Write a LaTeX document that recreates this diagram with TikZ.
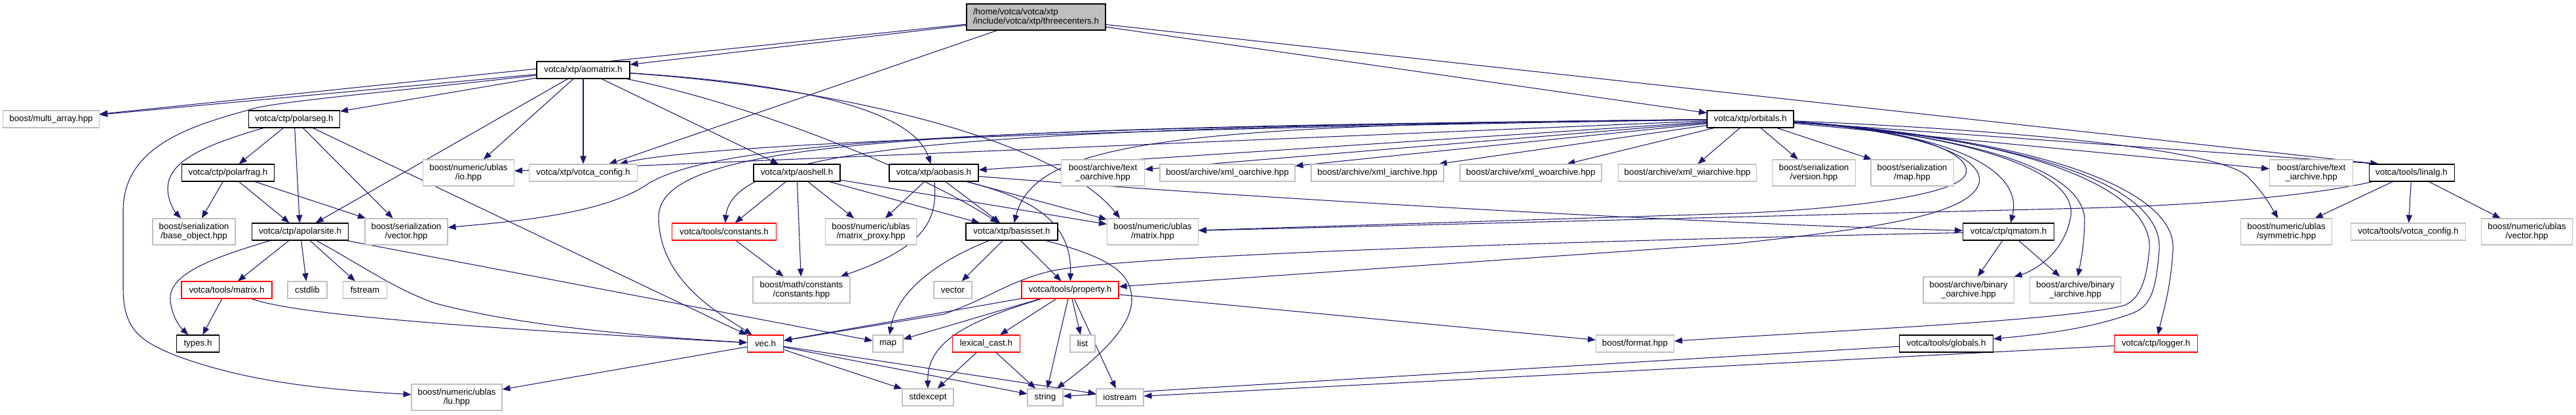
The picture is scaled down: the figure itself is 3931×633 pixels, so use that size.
\documentclass[tikz,border=0pt]{standalone}
\usepackage{fontspec}
\setmainfont{Liberation Sans}
\usetikzlibrary{arrows.meta,calc}
\pgfdeclarelayer{bg}
\pgfsetlayers{bg,main}
\definecolor{edgeblue}{HTML}{191970}
\definecolor{extgray}{HTML}{BFBFBF}
\definecolor{docred}{HTML}{FF0000}
\definecolor{tcgray}{HTML}{BFBFBF}
\tikzset{
  nbox/.style={draw, line width=0.8pt, minimum height=19.5pt, inner sep=1pt,
    font=\fontsize{10}{10.5}\selectfont, align=center, fill=white},
  docn/.style={nbox, draw=black},
  extn/.style={nbox, draw=extgray},
  redn/.style={nbox, draw=docred},
  tall/.style={minimum height=30pt},
  wd/.style={minimum width=#1*0.75pt},
  dep/.style={draw=edgeblue, line width=0.8pt, -{Triangle[length=9pt,width=7pt]}},
}
\begin{document}
\begin{tikzpicture}[x=0.75pt,y=-0.75pt]
\useasboundingbox (0,0) rectangle (3931,633);
% nodes
\node[docn,wd=212,tall,fill=tcgray,align=left] (tc) at (1581,26) {/home/votca/votca/xtp\\/include/votca/xtp/threecenters.h};
\node[docn,wd=142] (am) at (890,107) {votca/xtp/aomatrix.h};
\node[extn,wd=147] (multi) at (78,182) {boost/multi\_array.hpp};
\node[docn,wd=139] (pseg) at (449,182) {votca/ctp/polarseg.h};
\node[docn,wd=141] (pfrag) at (348,264) {votca/ctp/polarfrag.h};
\node[extn,wd=139,tall] (io) at (715,264) {boost/numeric/ublas\\/io.hpp};
\node[extn,wd=165] (xcfg) at (890,264) {votca/xtp/votca\_config.h};
\node[extn,wd=126,tall] (bobj) at (296,354) {boost/serialization\\/base\_object.hpp};
\node[docn,wd=147] (apol) at (458,354) {votca/ctp/apolarsite.h};
\node[extn,wd=126,tall] (svec) at (620,354) {boost/serialization\\/vector.hpp};
\node[redn,wd=138] (tmat) at (346,443) {votca/tools/matrix.h};
\node[extn,wd=60] (cstd) at (469,443) {cstdlib};
\node[extn,wd=67] (fstr) at (557,443) {fstream};
\node[docn,wd=65] (types) at (302,525) {types.h};
\node[extn,wd=138,tall] (lu) at (697,607) {boost/numeric/ublas\\/lu.hpp};
\node[docn,wd=132] (aosh) at (1216,264) {votca/xtp/aoshell.h};
\node[docn,wd=136] (aob) at (1425,264) {votca/xtp/aobasis.h};
\node[extn,wd=127,tall] (toa) at (1683,264) {boost/archive/text\\\_oarchive.hpp};
\node[extn,wd=206] (xoa) at (1873,264) {boost/archive/xml\_oarchive.hpp};
\node[redn,wd=159] (tconst) at (1105,354) {votca/tools/constants.h};
\node[extn,wd=139,tall] (mproxy) at (1329,354) {boost/numeric/ublas\\/matrix\_proxy.hpp};
\node[docn,wd=140] (bset) at (1544,354) {votca/xtp/basisset.h};
\node[extn,wd=139,tall] (umat) at (1759,354) {boost/numeric/ublas\\/matrix.hpp};
\node[extn,wd=148,tall] (mconst) at (1223,443) {boost/math/constants\\/constants.hpp};
\node[extn,wd=58] (vector) at (1454,443) {vector};
\node[redn,wd=148] (prop) at (1633,443) {votca/tools/property.h};
\node[redn,wd=55] (vec) at (1168,525) {vec.h};
\node[extn,wd=46] (map) at (1355,525) {map};
\node[redn,wd=103] (lex) at (1505,525) {lexical\_cast.h};
\node[extn,wd=38] (list) at (1652,525) {list};
\node[extn,wd=78] (stdex) at (1416,607) {stdexcept};
\node[extn,wd=54] (string) at (1595,607) {string};
\node[extn,wd=72] (iostr) at (1709,607) {iostream};
\node[docn,wd=132] (orb) at (2671,182) {votca/xtp/orbitals.h};
\node[extn,wd=202] (xia) at (2102,264) {boost/archive/xml\_iarchive.hpp};
\node[extn,wd=216] (xwoa) at (2336,264) {boost/archive/xml\_woarchive.hpp};
\node[extn,wd=211] (xwia) at (2575,264) {boost/archive/xml\_wiarchive.hpp};
\node[extn,wd=127,tall] (ver) at (2768,264) {boost/serialization\\/version.hpp};
\node[extn,wd=126,tall] (smap) at (2918,264) {boost/serialization\\/map.hpp};
\node[extn,wd=119] (fmt) at (2495,525) {boost/format.hpp};
\node[docn,wd=143] (glob) at (2970,525) {votca/tools/globals.h};
\node[docn,wd=139] (qmat) at (3065,354) {votca/ctp/qmatom.h};
\node[extn,wd=138,tall] (boa) at (3004,443) {boost/archive/binary\\\_oarchive.hpp};
\node[extn,wd=139,tall] (bia) at (3167,443) {boost/archive/binary\\\_iarchive.hpp};
\node[redn,wd=127] (logger) at (3290,525) {votca/ctp/logger.h};
\node[extn,wd=139,tall] (sym) at (3489,354) {boost/numeric/ublas\\/symmetric.hpp};
\node[extn,wd=175] (tcfg) at (3675,354) {votca/tools/votca\_config.h};
\node[extn,wd=139,tall] (uvec) at (3856,354) {boost/numeric/ublas\\/vector.hpp};
\node[extn,wd=127,tall] (tia) at (3527,264) {boost/archive/text\\\_iarchive.hpp};
\node[docn,wd=130] (linalg) at (3680,264) {votca/tools/linalg.h};

\begin{pgfonlayer}{bg}
\fill[white] (0,0) rectangle (3931,633);
% threecenters
\draw[dep] (tc) -- (am);
\draw[dep] (tc) -- (multi);
\draw[dep] (tc) -- (xcfg);
\draw[dep] (tc) -- (orb);
\draw[dep] (tc) -- ($(linalg.north west)+(15,0)$);
% aomatrix
\draw[dep] (am) -- (multi);
\draw[dep] (am) -- (pseg);
\draw[dep] (am) -- (apol);
\draw[dep] (am) -- (io);
\draw[dep] (am) -- (xcfg);
\draw[dep] (am) -- (aosh);
\draw[dep] (am) .. controls (600,140) and (420,155) .. (383,167) .. controls (300,190) and (189,220) .. (188,320) -- (188,440) .. controls (188,500) and (210,520) .. (268,543) .. controls (380,585) and (500,595) .. (lu);
\draw[dep] (am) .. controls (1250,130) and (1395,175) .. (aob);
\draw[dep] (am) .. controls (1150,160) and (1400,260) .. (bset);
\draw[dep] (am) .. controls (1300,135) and (1620,220) .. ($(umat.north)+(-50,0)$);
% polarseg
\draw[dep] (pseg) .. controls (300,225) and (255,250) .. (256,290) .. controls (257,310) and (268,325) .. (bobj);
\draw[dep] (pseg) -- (pfrag);
\draw[dep] (pseg) -- (apol);
\draw[dep] (pseg) -- (svec);
\draw[dep] (pseg) -- (vec);
% polarfrag
\draw[dep] (pfrag) -- (bobj);
\draw[dep] (pfrag) -- (apol);
\draw[dep] (pfrag) -- (svec);
% apolarsite
\draw[dep] (apol) -- (tmat);
\draw[dep] (apol) -- (cstd);
\draw[dep] (apol) -- (fstr);
\draw[dep] (apol) -- (map);
\draw[dep] (apol) .. controls (320,395) and (255,420) .. (260,460) .. controls (263,485) and (275,500) .. (types);
\draw[dep] (apol) .. controls (560,410) and (600,440) .. (663,463) .. controls (800,500) and (1000,515) .. (vec);
% tools/matrix
\draw[dep] (tmat) -- (types);
\draw[dep] (tmat) .. controls (450,480) and (700,500) .. (vec);
% vec
\draw[dep] (vec) -- (lu);
\draw[dep] (vec) -- (stdex);
\draw[dep] (vec) -- (string);
\draw[dep] (vec) -- (iostr);
% basisset
\draw[dep] (bset) -- (vector);
\draw[dep] (bset) -- (prop);
\draw[dep] (bset) .. controls (1440,395) and (1370,440) .. (map);
\draw[dep] (bset) .. controls (1700,395) and (1728,420) .. (1727,460) .. controls (1725,510) and (1650,565) .. (string);
% property
\draw[dep] (prop) -- (vec);
\draw[dep] (prop) -- (map);
\draw[dep] (prop) -- (lex);
\draw[dep] (prop) -- (string);
\draw[dep] (prop) -- (list);
\draw[dep] (prop) -- (iostr);
\draw[dep] (prop) -- (fmt);
\draw[dep] (prop) .. controls (1480,490) and (1415,520) .. (stdex);
% lexical_cast
\draw[dep] (lex) -- (stdex);
\draw[dep] (lex) -- (string);
% constants
\draw[dep] (tconst) -- (mconst);
% aoshell
\draw[dep] (aosh) -- (tconst);
\draw[dep] (aosh) -- (mconst);
\draw[dep] (aosh) -- (mproxy);
\draw[dep] (aosh) -- (bset);
\draw[dep] (aosh) -- (umat);
% aobasis
\draw[dep] (aob) -- (mproxy);
\draw[dep] (aob) -- (bset);
\draw[dep] (aob) -- (umat);
\draw[dep] (aob) .. controls (1430,330) and (1420,375) .. (mconst);
\draw[dep] (aob) .. controls (1560,300) and (1636,330) .. (prop);
\draw[dep] (aob) .. controls (2000,310) and (2700,345) .. (qmat);
% qmatom
\draw[dep] (qmat) -- (boa);
\draw[dep] (qmat) -- (bia);
\draw[dep] (qmat) .. controls (2400,368) and (1700,390) .. (1600,415) .. controls (1540,430) and (1510,455) .. (1440,480) -- (vec);
% linalg
\draw[dep] (linalg) -- (sym);
\draw[dep] (linalg) -- (tcfg);
\draw[dep] (linalg) -- (uvec);
\draw[dep] (linalg) .. controls (3500,305) and (3300,315) .. (3181,318) -- (umat);
% logger, globals
\draw[dep] (logger) -- (iostr);
\draw[dep] (glob) -- (string);
% orbitals
\draw[dep] (orb) -- (xia);
\draw[dep] (orb) -- (xwoa);
\draw[dep] (orb) -- (xwia);
\draw[dep] (orb) -- (ver);
\draw[dep] (orb) -- (smap);
\draw[dep] (orb) -- (xoa);
\draw[dep] (orb) -- (toa);
\draw[dep] (orb) -- (aob);
\draw[dep] (orb) -- (io);
\draw[dep] (orb) -- (tia);
\draw[dep] (orb) -- ($(linalg.north west)+(15,0)$);
\draw[dep] (orb) .. controls (1800,190) and (1580,215) .. (bset);
\draw[dep] (orb) .. controls (1500,200) and (1050,225) .. (xcfg);
\draw[dep] (orb) .. controls (1500,195) and (1100,215) .. (990,280) .. controls (920,330) and (760,340) .. (svec);
\draw[dep] (orb) .. controls (1500,195) and (1120,220) .. (tconst);
\draw[dep] (orb) .. controls (1400,195) and (1010,215) .. (1005,330) .. controls (1005,430) and (1100,480) .. (vec);
\draw[dep] (orb) .. controls (2900,195) and (3010,230) .. (3000,265) .. controls (2990,300) and (2800,320) .. (2650,326) -- (umat);
\draw[dep] (orb) .. controls (2930,200) and (3030,240) .. (3020,280) .. controls (3005,330) and (2850,350) .. (2650,372) -- (prop);
\draw[dep] (orb) .. controls (2950,200) and (3090,250) .. (qmat);
\draw[dep] (orb) .. controls (3000,205) and (3170,260) .. (3160,330) .. controls (3150,390) and (3100,415) .. (boa);
\draw[dep] (orb) .. controls (3050,210) and (3185,270) .. (3181,340) .. controls (3180,380) and (3175,400) .. (bia);
\draw[dep] (orb) .. controls (3100,210) and (3285,290) .. (3280,380) .. controls (3275,440) and (3260,460) .. (3240,467) .. controls (3150,490) and (2800,505) .. (fmt);
\draw[dep] (orb) .. controls (3120,215) and (3300,290) .. (3295,380) .. controls (3290,450) and (3280,470) .. (3250,480) .. controls (3180,505) and (3100,512) .. (glob);
\draw[dep] (orb) .. controls (3150,215) and (3320,300) .. (3316,380) .. controls (3313,440) and (3300,480) .. (logger);
\draw[dep] (orb) .. controls (3100,200) and (3390,230) .. (3430,270) .. controls (3455,295) and (3465,315) .. (sym);
\end{pgfonlayer}
\end{tikzpicture}
\end{document}
